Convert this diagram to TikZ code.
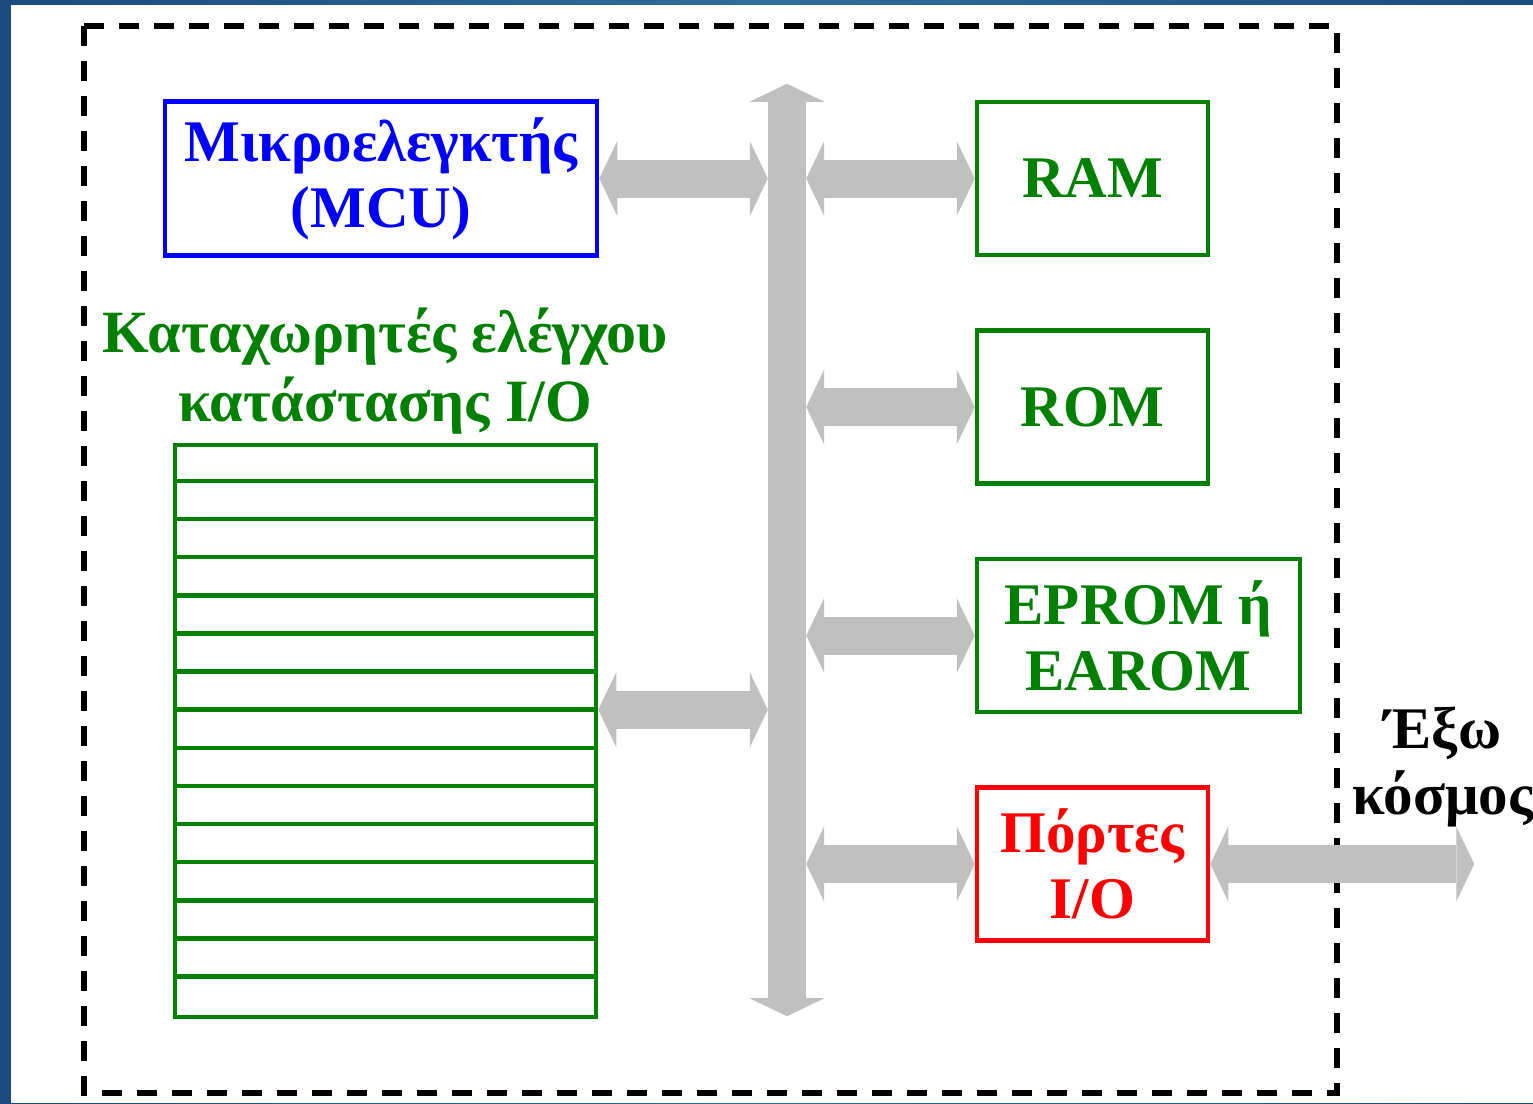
\documentclass[tikz,border=0pt]{standalone}
\usepackage{fontspec}
\setmainfont{Liberation Serif}
\usetikzlibrary{arrows.meta,positioning}

\definecolor{mcublue}{RGB}{0,0,255}
\definecolor{memgreen}{RGB}{0,128,0}
\definecolor{portred}{RGB}{255,0,0}
\definecolor{busgray}{RGB}{192,192,192}
\definecolor{slidedark}{RGB}{27,74,125}
\definecolor{slidelight}{RGB}{45,112,155}

\newcommand{\boxfont}{\fontsize{59}{66}\selectfont\bfseries}
\newcommand{\titlefont}{\fontsize{60}{69}\selectfont\bfseries}

\begin{document}
\begin{tikzpicture}[
  x=1pt, y=-1pt,
  font=\boxfont,
  box/.style={draw=#1, text=#1, line width=4.5pt, align=center,
              minimum width=231pt, minimum height=153pt, inner sep=0pt},
  wide/.style={minimum width=323pt},
  busarrow/.style={draw=busgray, line width=38pt,
    {Triangle[length=18pt,width=75pt,line width=0pt]}-{Triangle[length=18pt,width=75pt,line width=0pt]}},
  regline/.style={draw=memgreen, line width=4.5pt},
  frame/.style={draw=black, line width=6pt, dash pattern=on 20pt off 15pt},
  node distance=71pt
]
% slide background
\shade[left color=slidedark, right color=slidedark, middle color=slidelight]
  (0,0) rectangle (1533,1103);
\fill[white] (11,5) rectangle (1533,1103);
\useasboundingbox (0,0) rectangle (1533,1103);

% dashed outline of the chip
\draw[frame] (84,26) rectangle (1337,1093);

% processor and register file
\node[box=mcublue, minimum width=432pt, minimum height=154pt] (mcu) at (381,178.5)
  {Μικροελεγκτής\\(MCU)};
\node[text=memgreen, align=center, font=\titlefont] (title) at (385,371)
  {Καταχωρητές ελέγχου\\κατάστασης I/O};
\node[draw=memgreen, line width=4.5pt, inner sep=0pt,
      minimum width=421pt, minimum height=572pt] (regs) at (385.5,731) {};
\foreach \i in {1,...,14}
  \draw[regline] ([yshift=-\i*38.133pt]regs.north west)
              -- ([yshift=-\i*38.133pt]regs.north east);
\coordinate (regmid) at ([yshift=-7*38.133pt]regs.east |- regs.north);

% memories and ports
\node[box=memgreen] (ram) at (1092.5,178.5) {RAM};
\node[box=memgreen, below=of ram] (rom) {ROM};
\node[box=memgreen, wide, below=of rom.south west, anchor=north west] (eprom)
  {EPROM ή\\EAROM};
\node[box=portred, below=of eprom.south west, anchor=north west] (ports)
  {Πόρτες\\I/O};

% system bus
\node[inner sep=0pt, minimum width=38pt, minimum height=932pt] (bus) at (787,550) {};
\draw[busarrow] (bus.north) -- (bus.south);

\draw[busarrow] (mcu.east) -- (mcu.east -| bus.west);
\draw[busarrow] (regmid) -- (regmid -| bus.west);
\draw[busarrow] (bus.east |- ram.west) -- (ram.west);
\draw[busarrow] (bus.east |- rom.west) -- (rom.west);
\draw[busarrow] (bus.east |- eprom.west) -- (eprom.west);
\draw[busarrow] (bus.east |- ports.west) -- (ports.west);

% outside world
\coordinate (world) at ([xshift=264pt]ports.east);
\draw[busarrow] (ports.east) -- (world);
\node[align=center, text=black] (outside) at (1443,767) {Έξω\\κόσμος};
\end{tikzpicture}
\end{document}
